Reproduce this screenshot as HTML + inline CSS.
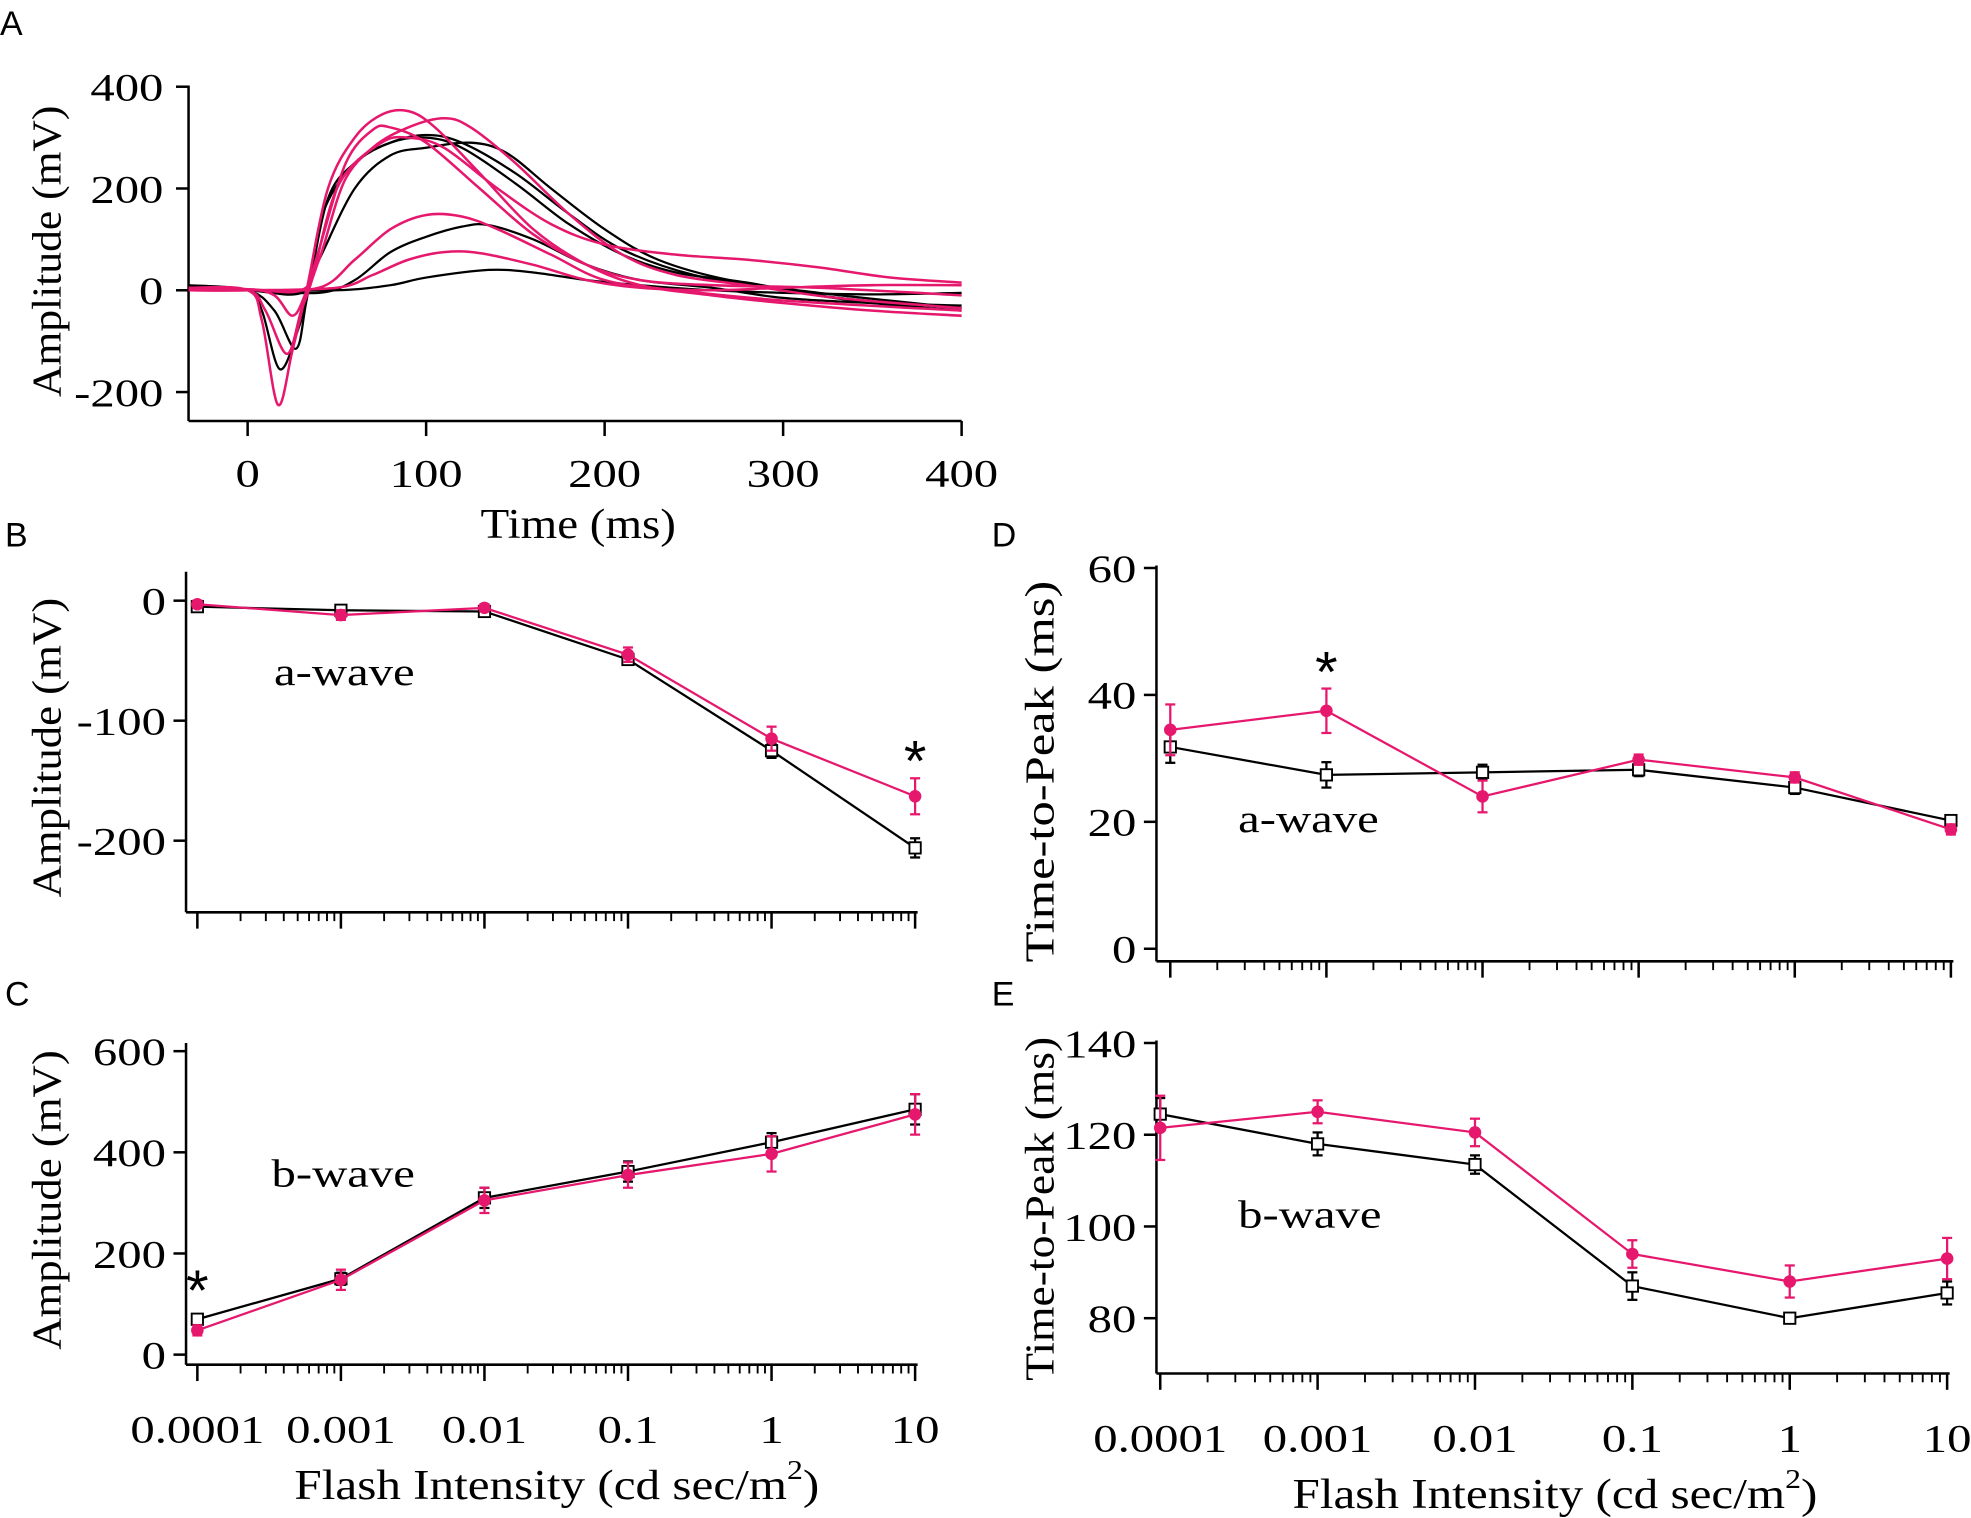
<!DOCTYPE html>
<html><head><meta charset="utf-8"><style>
html,body{margin:0;padding:0;background:#fff}
svg{display:block}
text{font-family:"Liberation Serif",serif;fill:#000}
.lt{font-family:"Liberation Sans",sans-serif}
</style></head><body>
<svg id="fig" xmlns="http://www.w3.org/2000/svg" width="1971" height="1518" viewBox="0 0 1568 1208" preserveAspectRatio="none"></svg>
<script>
// ---- Panel A traces: [time ms, amplitude mV]
const pinkTraces = [
 [[-33,5],[0,0],[8,-60],[17,-225],[25,-120],[33,0],[45,200],[60,300],[75,345],[90,352],[105,320],[130,230],[160,120],[190,50],[220,10],[260,-10],[300,-25],[350,-40],[400,-50]],
 [[-33,3],[0,0],[10,-40],[22,-125],[30,-40],[36,20],[50,200],[70,280],[90,320],[110,338],[125,320],[150,250],[180,150],[210,70],[240,30],[280,10],[330,-15],[400,-35]],
 [[-33,0],[0,2],[15,-10],[25,-50],[32,-10],[40,80],[55,250],[70,315],[80,320],[100,290],[130,200],[160,110],[190,50],[220,20],[260,10],[320,5],[400,-10]],
 [[-33,0],[0,2],[30,0],[40,60],[55,220],[75,290],[90,300],[110,280],[140,200],[170,130],[200,90],[240,70],[280,60],[320,45],[360,25],[400,15]],
 [[-33,0],[0,0],[40,5],[60,60],[80,120],[100,148],[120,145],[140,120],[170,70],[200,20],[240,0],[300,-20],[400,-40]],
 [[-33,0],[0,0],[50,5],[70,30],[90,60],[110,75],[130,73],[160,50],[190,20],[220,5],[260,0],[300,5],[350,10],[400,10]]
];
const blackTraces = [
 [[-33,10],[0,0],[8,-40],[18,-155],[28,-80],[34,0],[45,180],[60,250],[80,290],[100,300],[120,280],[150,210],[180,130],[210,70],[240,35],[280,15],[320,-10],[360,-25],[400,-35]],
 [[-33,5],[0,0],[15,-40],[27,-115],[33,-20],[42,150],[60,250],[80,290],[100,305],[120,290],[150,230],[180,150],[210,80],[250,30],[300,0],[350,-25],[400,-40]],
 [[-33,0],[0,0],[30,-5],[40,60],[60,200],[80,265],[100,280],[125,290],[145,270],[170,200],[200,120],[230,60],[270,20],[320,-5],[400,-35]],
 [[-33,0],[0,0],[40,-5],[60,20],[80,75],[100,105],[120,125],[135,128],[160,100],[190,50],[220,20],[260,5],[300,-15],[350,-25],[400,-30]],
 [[-33,0],[0,0],[50,0],[80,10],[100,25],[135,40],[160,35],[190,20],[220,10],[260,0],[300,-5],[350,-8],[400,-5]]
];
const timeTicks = [0,100,200,300,400];
const ampTicksA = [-200,0,200,400];
// ---- Intensity panels
const intensities = [0.0001,0.001,0.01,0.1,1,10];
const intensityLabels = ["0.0001","0.001","0.01","0.1","1","10"];
const bPink = [-3,-12,-6,-45,-115,-163];
const bPinkErr = [3,4,3,6,10,15];
const bBlack = [-5,-8,-9,-49,-125,-206];
const bBlackErr = [3,4,3,4,6,8];
const bTicks = [-200,-100,0];
const cPink = [48,148,305,355,397,475];
const cPinkErr = [10,20,25,25,35,40];
const cBlack = [70,150,310,362,420,485];
const cBlackErr = [10,12,20,20,18,30];
const cTicks = [0,200,400,600];
const dPink = [34.5,37.5,24,29.8,27,18.8];
const dPinkErr = [4,3.5,2.5,0.8,0.8,0.8];
const dBlack = [31.8,27.4,27.8,28.2,25.4,20.2];
const dBlackErr = [2.5,2,1.2,1,1,0.8];
const dTicks = [0,20,40,60];
const ePink = [121.5,125,120.5,94,88,93];
const ePinkErr = [7,2.5,3,3,3.5,4.5];
const eBlack = [124.5,118,113.5,87,80,85.5];
const eBlackErr = [3.5,2.5,2,3,1,2.5];
const eTicks = [80,100,120,140];

const PINK = "#e6186e";
const NS = "http://www.w3.org/2000/svg";
const svg = document.getElementById('fig');
function el(tag, attrs, parent){const e=document.createElementNS(NS,tag);for(const k in attrs)e.setAttribute(k,attrs[k]);(parent||svg).appendChild(e);return e;}
function txt(s,x,y,size,anchor,parent,cls,sx,rot){const t=el('text',{x:0,y:0,'font-size':size,'text-anchor':anchor||'start'},parent);
 t.setAttribute('transform',`translate(${x},${y})`+(rot?` rotate(${rot})`:'')+` scale(${sx||1},1)`);
 if(cls)t.setAttribute('class',cls);t.textContent=s;return t;}
function smooth(pts){let d='M'+pts[0][0]+','+pts[0][1];for(let i=0;i<pts.length-1;i++){const p0=pts[i-1]||pts[i],p1=pts[i],p2=pts[i+1],p3=pts[i+2]||p2;const c1x=p1[0]+(p2[0]-p0[0])/6,c1y=p1[1]+(p2[1]-p0[1])/6,c2x=p2[0]-(p3[0]-p1[0])/6,c2y=p2[1]-(p3[1]-p1[1])/6;d+=`C${c1x},${c1y} ${c2x},${c2y} ${p2[0]},${p2[1]}`;}return d;}
const TS=1.25;

// panel letters
[['A',0,28],['B',4,435],['C',4,800],['D',789,435],['E',789,800]].forEach(l=>{const t=txt(l[0],l[1],l[2],27,'start',svg,'lt');});

// ---- Panel A
(function(){
 const g=el('g',{});
 
 
 const x=t=>197+(t)*1.42, y=v=>231-v*0.405;
 el('line',{x1:150,y1:68,x2:150,y2:335,stroke:'#000','stroke-width':2},g);
 el('line',{x1:150,y1:335,x2:765,y2:335,stroke:'#000','stroke-width':2},g);
 ampTicksA.forEach(v=>{el('line',{x1:150,y1:y(v),x2:140,y2:y(v),stroke:'#000','stroke-width':2},g);txt(String(v),130,y(v)+11,31,'end',g,null,TS);});
 timeTicks.forEach(t=>{el('line',{x1:x(t),y1:335,x2:x(t),y2:347,stroke:'#000','stroke-width':2},g);txt(String(t),x(t),387,31,'middle',g,null,TS);});
 const yt=txt('Amplitude (mV)',48,200,33,'middle',g,null,1.05,-90);
 
 const xt=txt('Time (ms)',460,428,34,'middle',g,null,1.1);
 
 blackTraces.forEach((tr,i)=>{const p=el('path',{d:smooth(tr.map(q=>[x(q[0]),y(q[1])])),fill:'none',stroke:'#000','stroke-width':1.8},g);});
 pinkTraces.forEach((tr,i)=>{const p=el('path',{d:smooth(tr.map(q=>[x(q[0]),y(q[1])])),fill:'none',stroke:PINK,'stroke-width':2},g);});
})();

// ---- intensity panels
function panel(o){
 const g=el('g',{});
 
 
 const x=v=>o.x0+(Math.log10(v)+4)*o.dx;
 const y=v=>o.y0-(v-o.v0)*o.sy;
 el('line',{x1:o.ax,y1:o.top,x2:o.ax,y2:o.axy,stroke:'#000','stroke-width':2},g);
 el('line',{x1:o.ax,y1:o.axy,x2:x(10)+2,y2:o.axy,stroke:'#000','stroke-width':2},g);
 o.ticks.forEach(v=>{el('line',{x1:o.ax,y1:y(v),x2:o.ax-10,y2:y(v),stroke:'#000','stroke-width':2},g);txt(String(v),o.ax-16,y(v)+11,31,'end',g,null,TS);});
 intensities.forEach((v,i)=>{el('line',{x1:x(v),y1:o.axy,x2:x(v),y2:o.axy+13,stroke:'#000','stroke-width':2},g);
  if(i<5)for(let m=2;m<=9;m++){const xx=x(v*m);el('line',{x1:xx,y1:o.axy,x2:xx,y2:o.axy+7,stroke:'#000','stroke-width':1.5},g);}
  if(o.labels)txt(intensityLabels[i],x(v),o.axy+62,31,'middle',g,null,TS);});
 const yt=txt(o.ytitle,o.ytx,o.yty,33,'middle',g,null,o.ysx,-90);
 
 if(o.xtitle){const xt=el('text',{x:0,y:0,'font-size':34,'text-anchor':'middle',transform:`translate(${o.xtx},${o.axy+107}) scale(1.15,1)`},g);xt.textContent='Flash Intensity (cd sec/m';const s=el('tspan',{dy:-16,'font-size':22},xt);s.textContent='2';const s2=el('tspan',{dy:16},xt);s2.textContent=')';
  }
 const lab=txt(o.label,o.lx,o.ly,31,'start',g,null,TS);
 function series(vals,errs,color,marker,nm){
  const pts=vals.map((v,i)=>[x(intensities[i]),y(v)]);
  const pl=el('polyline',{points:pts.map(p=>p.join(',')).join(' '),fill:'none',stroke:color,'stroke-width':1.8},g);
  
  vals.forEach((v,i)=>{const xx=pts[i][0];const y1=y(v+errs[i]),y2=y(v-errs[i]);
   el('line',{x1:xx,y1:y1,x2:xx,y2:y2,stroke:color,'stroke-width':1.8},g);
   el('line',{x1:xx-4,y1:y1,x2:xx+4,y2:y1,stroke:color,'stroke-width':1.8},g);
   el('line',{x1:xx-4,y1:y2,x2:xx+4,y2:y2,stroke:color,'stroke-width':1.8},g);
   let m;
   if(marker==='circle')m=el('circle',{cx:xx,cy:pts[i][1],r:5,fill:color},g);
   else m=el('rect',{x:xx-4.5,y:pts[i][1]-4.5,width:9,height:9,fill:'#fff',stroke:color,'stroke-width':1.5},g);
   });
 }
 series(o.black,o.blackErr,'#000','square','control');
 series(o.pink,o.pinkErr,PINK,'circle','mutant');
 if(o.star){const st=txt('*',x(intensities[o.star[0]]),y(o.star[1]),46,'middle',g,'lt');}
}
panel({name:'panel-b-a-wave-amplitude',x0:157,dx:114.2,y0:478,v0:0,sy:0.955,ax:148,top:455,axy:726,ticks:bTicks,ytitle:'Amplitude (mV)',ytx:48,yty:595,ysx:1.08,label:'a-wave',lx:218,ly:545,pink:bPink,pinkErr:bPinkErr,black:bBlack,blackErr:bBlackErr,star:[5,-150]});
panel({name:'panel-c-b-wave-amplitude',x0:157,dx:114.2,y0:1078,v0:0,sy:0.4025,ax:148,top:830,axy:1086,ticks:cTicks,ytitle:'Amplitude (mV)',ytx:48,yty:955,ysx:1.08,label:'b-wave',lx:216,ly:944,labels:true,xtitle:true,xtx:443,pink:cPink,pinkErr:cPinkErr,black:cBlack,blackErr:cBlackErr,star:[0,88]});
panel({name:'panel-d-a-wave-time-to-peak',x0:931,dx:124.2,y0:755,v0:0,sy:5.05,ax:920,top:450,axy:765,ticks:dTicks,ytitle:'Time-to-Peak (ms)',ytx:838,yty:614,ysx:1.22,label:'a-wave',lx:985,ly:662,pink:dPink,pinkErr:dPinkErr,black:dBlack,blackErr:dBlackErr,star:[1,40.5]});
panel({name:'panel-e-b-wave-time-to-peak',x0:923,dx:125.2,y0:1049,v0:80,sy:3.65,ax:920,top:828,axy:1093,ticks:eTicks,ytitle:'Time-to-Peak (ms)',ytx:838,yty:962,ysx:1.1,label:'b-wave',lx:985,ly:977,labels:true,xtitle:true,xtx:1237,pink:ePink,pinkErr:ePinkErr,black:eBlack,blackErr:eBlackErr});
</script>
</body></html>
